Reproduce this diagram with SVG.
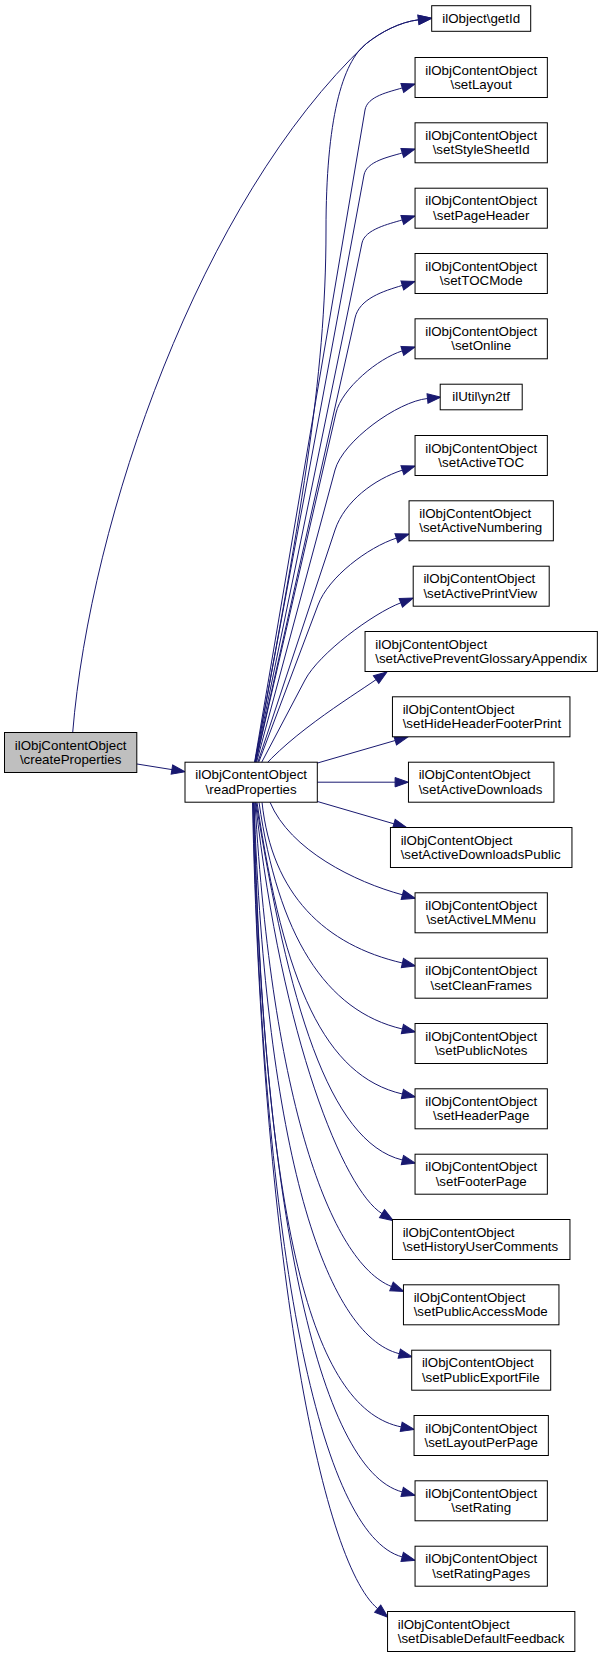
<svg xmlns="http://www.w3.org/2000/svg" width="603" height="1658" viewBox="0 0 603 1658">
<style>
.bg{fill:#fff}
.n rect{fill:#fff;stroke:#000;stroke-width:1}
.root rect{fill:#bfbfbf}
text{font-family:"Liberation Sans",Arial,Helvetica,sans-serif;font-size:13.33px;fill:#000}
.m{text-anchor:middle}
.s{text-anchor:start}
.e path{fill:none;stroke:#191970;stroke-width:1;marker-end:url(#a)}
</style>
<defs>
<marker id="a" markerUnits="userSpaceOnUse" markerWidth="14" markerHeight="9.4" viewBox="0 0 14 9.4" refX="0" refY="4.7" orient="auto" overflow="visible">
<path d="M0,0 L13.3,4.7 L0,9.4 z" fill="#191970" stroke="#191970" stroke-width="1"/>
</marker>
</defs>
<rect class="bg" x="0" y="0" width="603" height="1658"/>
<g id="edges" class="e">
<path d="M137,764 L171.9,769.6"/>
<path d="M72.7,732.5 C90,520 200,200 366.7,43.3 C381,32 400,22 418.5,19.8"/>
<path d="M251.2,782.2 C300,520 326,380 326,230 C326,120 342,62 366.7,43.3 C381,32 400,22 418.5,19.8"/>
<path d="M251.2,782.2 L365,110 C367.3,96.2 388.9,92 402.3,87.9"/>
<path d="M251.2,782.2 L364,175 C366.6,161.2 388.9,157 402.3,152.9"/>
<path d="M251.2,782.2 L362,243 C364.8,229.3 388.9,224 402.3,219.9"/>
<path d="M251.2,782.2 L355,318 C359.4,298.5 383.2,291.2 402.3,285.4"/>
<path d="M251.2,782.2 L336,413 C341.6,388.6 378.4,358.2 402.3,350.9"/>
<path d="M251.2,782.2 L335,470 C342.8,441 397.6,401.5 427.5,398.5"/>
<path d="M251.2,782.2 L335,530 C344.5,501.5 373.9,479.4 402.4,470.1"/>
<path d="M251.2,782.2 L318,605 C328.6,576.9 367.9,547.4 396.4,538.1"/>
<path d="M251.2,782.2 L305,680 C319,653.4 372.8,613.5 400.8,602.8"/>
<path d="M251.2,782.2 C280,740 351.5,696.8 376.1,679.6"/>
<path d="M251.2,782.2 L395.2,740.5"/>
<path d="M251.2,782.2 L395.1,782.2"/>
<path d="M251.2,782.2 L393.9,823.8"/>
<path d="M270,802.2 C290,850 355,882 402.4,894.8"/>
<path d="M262,802.2 C272,895 325,945 402.4,963"/>
<path d="M259,802.2 C278,935 325,1011 402.4,1029"/>
<path d="M257,802.2 C284,985 325,1076 402.4,1094"/>
<path d="M256,802.2 C288,1000 328,1142 402.4,1160"/>
<path d="M255.5,802.2 C282,1040 343.8,1189.8 382,1213.6"/>
<path d="M255,802.2 C272,1100 330,1262 391.5,1286.5"/>
<path d="M254,802.2 C266,1150 325,1335 399.3,1353.7"/>
<path d="M254,802.2 C264,1250 318,1410 401.2,1426.9"/>
<path d="M253.5,802.2 C262,1200 318,1470 402.2,1491.9"/>
<path d="M253,802.2 C262,1250 320,1535 402.2,1556.9"/>
<path d="M252.5,802.2 C262,1250 320,1560 377.7,1608.7"/>
</g>
<g id="createProperties" class="n root"><rect x="4.5" y="732.5" width="132.3" height="40"/><text class="m" x="70.65" y="749.5">ilObjContentObject</text><text class="m" x="70.65" y="763.8">\createProperties</text></g>
<g id="readProperties" class="n"><rect x="185" y="762.2" width="132.3" height="40"/><text class="m" x="251.15" y="779.2">ilObjContentObject</text><text class="m" x="251.15" y="793.5">\readProperties</text></g>
<g id="getId" class="n"><rect x="431.7" y="5.7" width="99" height="25.6"/><text class="m" x="481.2" y="22.5">ilObject\getId</text></g>
<g id="setLayout" class="n"><rect x="415.05" y="57.5" width="132.3" height="40"/><text class="m" x="481.2" y="74.5">ilObjContentObject</text><text class="m" x="481.2" y="88.8">\setLayout</text></g>
<g id="setStyleSheetId" class="n"><rect x="415.05" y="122.8" width="132.3" height="40"/><text class="m" x="481.2" y="139.8">ilObjContentObject</text><text class="m" x="481.2" y="154.1">\setStyleSheetId</text></g>
<g id="setPageHeader" class="n"><rect x="415.05" y="188.2" width="132.3" height="40"/><text class="m" x="481.2" y="205.2">ilObjContentObject</text><text class="m" x="481.2" y="219.5">\setPageHeader</text></g>
<g id="setTOCMode" class="n"><rect x="415.05" y="253.5" width="132.3" height="40"/><text class="m" x="481.2" y="270.5">ilObjContentObject</text><text class="m" x="481.2" y="284.8">\setTOCMode</text></g>
<g id="setOnline" class="n"><rect x="415.05" y="318.8" width="132.3" height="40"/><text class="m" x="481.2" y="335.8">ilObjContentObject</text><text class="m" x="481.2" y="350.1">\setOnline</text></g>
<g id="yn2tf" class="n"><rect x="440.2" y="384.2" width="82" height="25.6"/><text class="m" x="481.2" y="401">ilUtil\yn2tf</text></g>
<g id="setActiveTOC" class="n"><rect x="415.05" y="435.5" width="132.3" height="40"/><text class="m" x="481.2" y="452.5">ilObjContentObject</text><text class="m" x="481.2" y="466.8">\setActiveTOC</text></g>
<g id="setActiveNumbering" class="n"><rect x="409.05" y="500.8" width="144.3" height="40"/><text class="s" x="419.25" y="517.8">ilObjContentObject</text><text class="s" x="419.25" y="532.1">\setActiveNumbering</text></g>
<g id="setActivePrintView" class="n"><rect x="413.2" y="566.2" width="136" height="40"/><text class="s" x="423.4" y="583.2">ilObjContentObject</text><text class="s" x="423.4" y="597.5">\setActivePrintView</text></g>
<g id="setActivePreventGlossaryAppendix" class="n"><rect x="365.05" y="631.5" width="232.3" height="40"/><text class="s" x="375.25" y="648.5">ilObjContentObject</text><text class="s" x="375.25" y="662.8">\setActivePreventGlossaryAppendix</text></g>
<g id="setHideHeaderFooterPrint" class="n"><rect x="392.45" y="696.8" width="177.5" height="40"/><text class="s" x="402.65" y="713.8">ilObjContentObject</text><text class="s" x="402.65" y="728.1">\setHideHeaderFooterPrint</text></g>
<g id="setActiveDownloads" class="n"><rect x="408.45" y="762.2" width="145.5" height="40"/><text class="s" x="418.65" y="779.2">ilObjContentObject</text><text class="s" x="418.65" y="793.5">\setActiveDownloads</text></g>
<g id="setActiveDownloadsPublic" class="n"><rect x="390.45" y="827.5" width="181.5" height="40"/><text class="s" x="400.65" y="844.5">ilObjContentObject</text><text class="s" x="400.65" y="858.8">\setActiveDownloadsPublic</text></g>
<g id="setActiveLMMenu" class="n"><rect x="415.05" y="892.8" width="132.3" height="40"/><text class="m" x="481.2" y="909.8">ilObjContentObject</text><text class="m" x="481.2" y="924.1">\setActiveLMMenu</text></g>
<g id="setCleanFrames" class="n"><rect x="415.05" y="958.2" width="132.3" height="40"/><text class="m" x="481.2" y="975.2">ilObjContentObject</text><text class="m" x="481.2" y="989.5">\setCleanFrames</text></g>
<g id="setPublicNotes" class="n"><rect x="415.05" y="1023.5" width="132.3" height="40"/><text class="m" x="481.2" y="1040.5">ilObjContentObject</text><text class="m" x="481.2" y="1054.8">\setPublicNotes</text></g>
<g id="setHeaderPage" class="n"><rect x="415.05" y="1088.8" width="132.3" height="40"/><text class="m" x="481.2" y="1105.8">ilObjContentObject</text><text class="m" x="481.2" y="1120.1">\setHeaderPage</text></g>
<g id="setFooterPage" class="n"><rect x="415.05" y="1154.2" width="132.3" height="40"/><text class="m" x="481.2" y="1171.2">ilObjContentObject</text><text class="m" x="481.2" y="1185.5">\setFooterPage</text></g>
<g id="setHistoryUserComments" class="n"><rect x="392.45" y="1219.5" width="177.5" height="40"/><text class="s" x="402.65" y="1236.5">ilObjContentObject</text><text class="s" x="402.65" y="1250.8">\setHistoryUserComments</text></g>
<g id="setPublicAccessMode" class="n"><rect x="403.45" y="1284.8" width="155.5" height="40"/><text class="s" x="413.65" y="1301.8">ilObjContentObject</text><text class="s" x="413.65" y="1316.1">\setPublicAccessMode</text></g>
<g id="setPublicExportFile" class="n"><rect x="411.7" y="1350.2" width="139" height="40"/><text class="s" x="421.9" y="1367.2">ilObjContentObject</text><text class="s" x="421.9" y="1381.5">\setPublicExportFile</text></g>
<g id="setLayoutPerPage" class="n"><rect x="414.05" y="1415.5" width="134.3" height="40"/><text class="m" x="481.2" y="1432.5">ilObjContentObject</text><text class="m" x="481.2" y="1446.8">\setLayoutPerPage</text></g>
<g id="setRating" class="n"><rect x="415.05" y="1480.8" width="132.3" height="40"/><text class="m" x="481.2" y="1497.8">ilObjContentObject</text><text class="m" x="481.2" y="1512.1">\setRating</text></g>
<g id="setRatingPages" class="n"><rect x="415.05" y="1546.2" width="132.3" height="40"/><text class="m" x="481.2" y="1563.2">ilObjContentObject</text><text class="m" x="481.2" y="1577.5">\setRatingPages</text></g>
<g id="setDisableDefaultFeedback" class="n"><rect x="387.55" y="1611.5" width="187.3" height="40"/><text class="s" x="397.75" y="1628.5">ilObjContentObject</text><text class="s" x="397.75" y="1642.8">\setDisableDefaultFeedback</text></g>
</svg>
